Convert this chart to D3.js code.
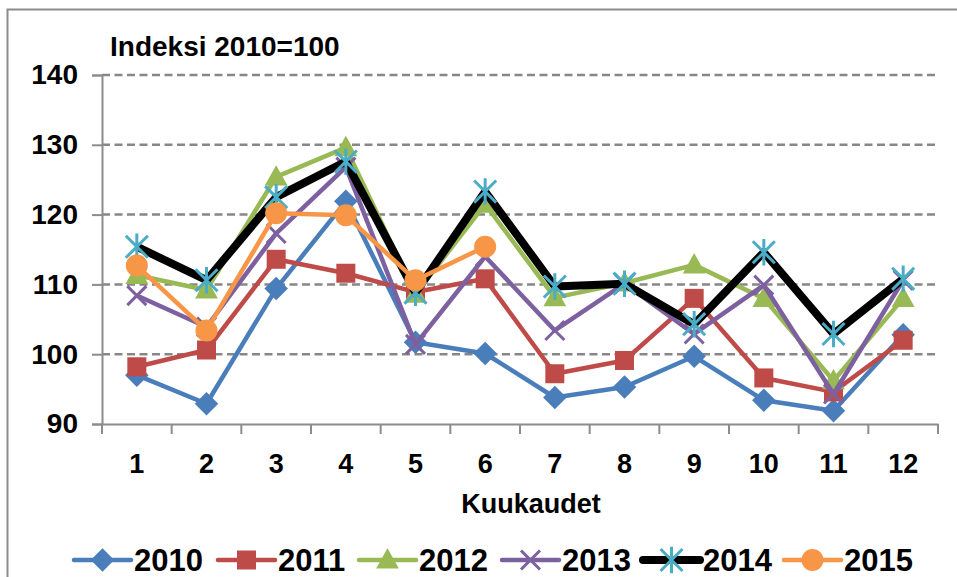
<!DOCTYPE html>
<html><head><meta charset="utf-8">
<script src="https://cdn.jsdelivr.net/npm/d3@7"></script>
<style>body{margin:0;background:#fff}svg{display:block}text{font-family:"Liberation Sans",Arial,sans-serif;font-weight:bold;fill:#000}</style>
</head><body><svg id="c" width="957" height="577"></svg>
<script>
const months = ["1","2","3","4","5","6","7","8","9","10","11","12"];
const yTicks = [90,100,110,120,130,140];
const years = ["2010","2011","2012","2013","2014","2015"];
const s2010 = [97.0,92.9,109.4,121.9,101.7,100.1,93.8,95.3,99.7,93.4,91.9,102.8];
const s2011 = [98.2,100.6,113.6,111.6,108.9,110.8,97.2,99.1,108.0,96.6,94.6,102.0];
const s2012 = [111.3,109.2,125.4,129.6,108.6,121.5,108.1,110.2,112.8,108.0,96.2,108.0];
const s2013 = [108.4,103.9,117.3,126.8,101.4,114.0,103.4,110.1,102.9,109.9,94.3,110.6];
const s2014 = [115.4,110.6,122.5,127.6,108.8,123.3,109.7,110.1,104.3,114.6,102.9,110.8];
const s2015 = [112.7,103.4,120.2,119.9,110.6,115.4];
const seriesValues = [s2010,s2011,s2012,s2013,s2014,s2015];
const lineColors = ["#4A7EBB","#BE4B48","#98B954","#7D60A0","#000000","#F79646"];
const markerColors = ["#4A7EBB","#BE4B48","#98B954","#7D60A0","#4BACC6","#F79646"];
const markerTypes = ["diamond","square","triangle","x","star","circle"];

const svg = d3.select("#c");
const L=102, R=938, T=75, B=424;
const x = d3.scaleBand().domain(months).range([L,R]);
const y = d3.scaleLinear().domain([90,140]).range([B,T]);

// frame
svg.append("path").attr("d","M7.5,577 L7.5,9.5 L957,9.5").attr("fill","none").attr("stroke","#8c8c8c").attr("stroke-width",2);

// grid
svg.append("g").selectAll("line").data(yTicks.filter(d=>d>90)).join("line")
  .attr("x1",L).attr("x2",R).attr("y1",d=>y(d)).attr("y2",d=>y(d))
  .attr("stroke","#878787").attr("stroke-width",2.5).attr("stroke-dasharray","8,4.5");

// y axis
const ya = svg.append("g").attr("transform",`translate(${L},0)`)
  .call(d3.axisLeft(y).tickValues(yTicks).tickSize(10).tickPadding(14).tickFormat(d3.format("d")));
ya.select(".domain").attr("stroke","#8c8c8c").attr("stroke-width",2);
ya.selectAll(".tick line").attr("stroke","#8c8c8c").attr("stroke-width",2);
ya.selectAll("text").style("font-size","28px").style("font-family","Liberation Sans, Arial").style("font-weight","bold").attr("fill","#000");

// x axis
const xa = svg.append("g").attr("transform",`translate(0,${B})`)
  .call(d3.axisBottom(x).tickSize(0).tickPadding(30));
xa.select(".domain").attr("stroke","#8c8c8c").attr("stroke-width",2);
xa.selectAll("text").style("font-size","27px").style("font-family","Liberation Sans, Arial").style("font-weight","bold").attr("fill","#000").attr("dy","0.71em");
const bounds = months.map(m=>x(m)).concat([R]);
svg.append("g").selectAll("line").data(bounds).join("line")
  .attr("x1",d=>d).attr("x2",d=>d).attr("y1",B).attr("y2",B+10)
  .attr("stroke","#8c8c8c").attr("stroke-width",2);

// titles
svg.append("text").attr("x",110).attr("y",56).style("font-size","28px").text("Indeksi 2010=100");
svg.append("text").attr("x",531).attr("y",513).attr("text-anchor","middle").style("font-size","27px").text("Kuukaudet");

function marker(g, type, color, size){
  const s=size;
  if(type==="diamond") g.append("path").attr("d",`M0,${-s*0.62}L${s*0.62},0L0,${s*0.62}L${-s*0.62},0Z`).attr("fill",color);
  else if(type==="square") g.append("rect").attr("x",-s/2).attr("y",-s/2).attr("width",s).attr("height",s).attr("fill",color);
  else if(type==="triangle") g.append("path").attr("d",`M0,${-s*0.62}L${s*0.6},${s*0.45}L${-s*0.6},${s*0.45}Z`).attr("fill",color);
  else if(type==="circle") g.append("circle").attr("r",s*0.58).attr("fill",color);
  else if(type==="x") g.append("path").attr("d",`M${-s/2},${-s/2}L${s/2},${s/2}M${s/2},${-s/2}L${-s/2},${s/2}`).attr("stroke",color).attr("stroke-width",3);
  else if(type==="star"){
    const a=s*0.58;
    g.append("path").attr("d",`M${-a},${-a}L${a},${a}M${a},${-a}L${-a},${a}M0,${-a*1.2}L0,${a*1.2}`).attr("stroke",color).attr("stroke-width",3);
  }
}

// series
const gS = svg.append("g");
seriesValues.forEach((vals,i)=>{
  const g = gS.append("g");
  const line = d3.line().x((d,j)=>x(months[j])+x.bandwidth()/2).y(d=>y(d));
  g.append("path").attr("d",line(vals)).attr("fill","none").attr("stroke",lineColors[i])
    .attr("stroke-width",i===4?8:4.5).attr("stroke-linejoin","round");
  vals.forEach((v,j)=>{
    const m = g.append("g").attr("transform",`translate(${x(months[j])+x.bandwidth()/2},${y(v)})`);
    marker(m, markerTypes[i], markerColors[i], 19);
  });
});

// legend
const legX = [74,218,359,502,643,784];
const lg = svg.append("g");
years.forEach((yr,i)=>{
  const g = lg.append("g").attr("transform",`translate(${legX[i]},560)`);
  g.append("line").attr("x1",0).attr("x2",57).attr("stroke",lineColors[i]).attr("stroke-width",i===4?8:4.5).attr("stroke-linecap","round");
  const m = g.append("g").attr("transform","translate(28.5,0)");
  marker(m, markerTypes[i], markerColors[i], 19);
  g.append("text").attr("x",60).attr("y",11).style("font-size","31px").text(yr);
});
</script></body></html>
